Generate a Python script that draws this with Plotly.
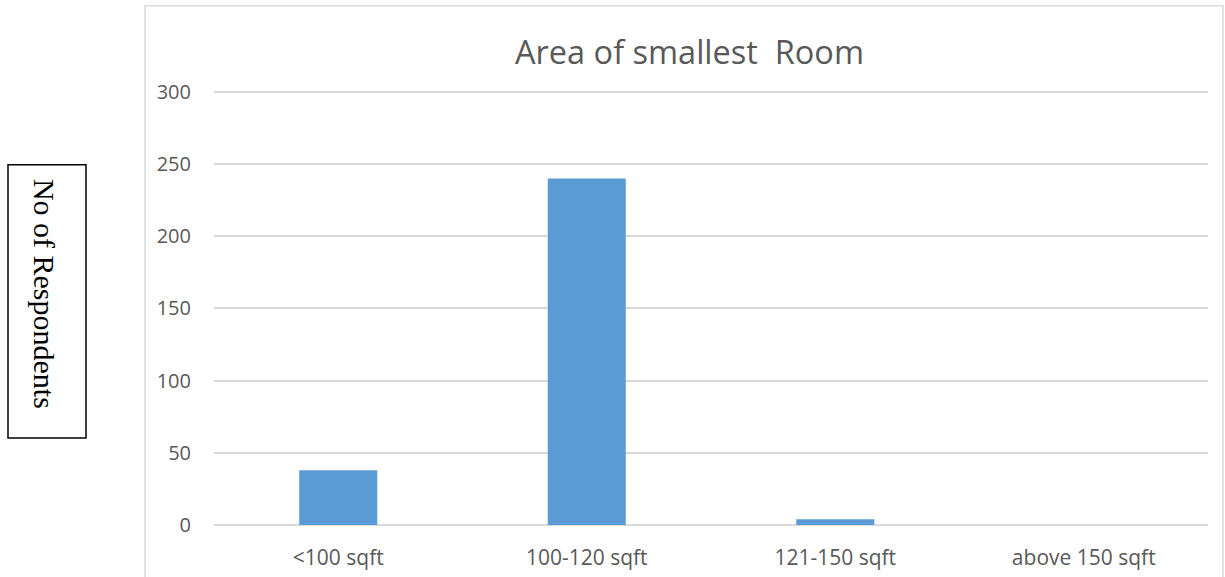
import plotly.graph_objects as go

categories = ["<100 sqft", "100-120 sqft", "121-150 sqft", "above 150 sqft"]
respondents = [38, 240, 4, 0]
y_ticks = [0, 50, 100, 150, 200, 250, 300]

fig = go.Figure()
fig.add_trace(go.Bar(x=categories, y=respondents, marker=dict(color="#5b9bd5", line=dict(width=0)),
                     width=0.314))

W, H = 1225, 577
plot_left, plot_right = 214, 1208
y0_px, y300_px = 525, 92
ymax = 304
ph = (y0_px - y300_px) * ymax / 300
T = y0_px - ph
L, R, B = plot_left, W - plot_right, H - y0_px
pw = plot_right - plot_left

def px(x):
    return (x - L) / pw

def py(y):
    return (y0_px - y) / ph

fig.update_layout(
    width=W, height=H,
    margin=dict(l=L, r=R, t=T, b=B, autoexpand=False),
    paper_bgcolor="white", plot_bgcolor="white",
    showlegend=False,
    font=dict(family="Open Sans", color="#595959", size=20),
    xaxis=dict(showgrid=False, showline=False, ticks="", tickfont=dict(size=21), ticklabelstandoff=18),
    yaxis=dict(range=[0, ymax], tickvals=y_ticks, showgrid=True, gridcolor="#d9d9d9", gridwidth=1.5,
               zeroline=True, zerolinecolor="#d9d9d9", zerolinewidth=1.5, showline=False, ticks="",
               tickfont=dict(size=20), ticklabelstandoff=22),
    shapes=[
        dict(type="rect", xref="paper", yref="paper", x0=px(145), x1=px(1223), y0=py(600), y1=py(6),
             line=dict(color="#d9d9d9", width=1.5), layer="below"),
        dict(type="rect", xref="paper", yref="paper", x0=px(8), x1=px(86), y0=py(438), y1=py(165),
             line=dict(color="black", width=1.5)),
    ],
    annotations=[
        dict(text="Area of smallest\u00a0 Room", xref="paper", yref="paper", x=px(689), y=py(52),
             showarrow=False, font=dict(size=32.5, color="#595959"), xanchor="center", yanchor="middle"),
        dict(text="No of Respondents", xref="paper", yref="paper", x=px(44), y=py(294), textangle=90,
             showarrow=False, font=dict(family="Liberation Serif", size=30, color="black"),
             xanchor="center", yanchor="middle"),
    ],
)

fig.write_html(
    "out.html",
    config={"displayModeBar": False},
    post_script="document.body.style.margin='0';document.body.style.overflow='hidden';"
                "document.documentElement.style.overflow='hidden';",
)
